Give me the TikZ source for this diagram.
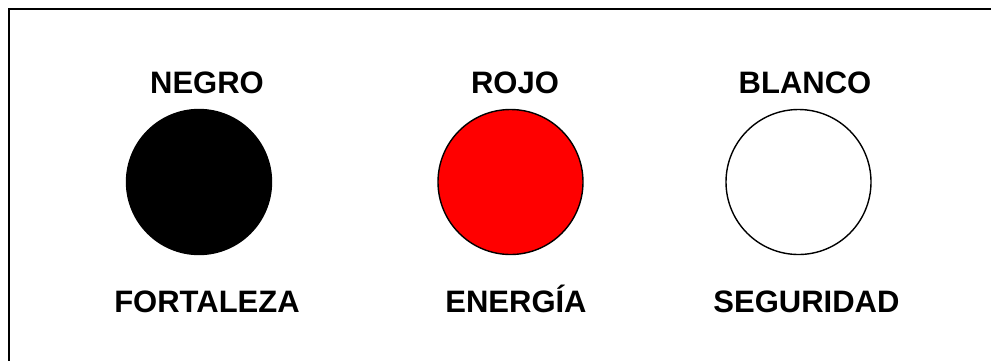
\documentclass[tikz,border=0pt]{standalone}
\usepackage{fontspec}
\setmainfont{Liberation Sans}
\begin{document}
\begin{tikzpicture}[x=1pt,y=-1pt,
  lbl/.style={font=\fontsize{31}{37}\selectfont\bfseries, anchor=base, inner sep=0pt},
  dot/.style={circle, draw=black, line width=1.4pt, minimum size=145pt, inner sep=0pt}]
\useasboundingbox (0,0) rectangle (991,360);
\draw[line width=2.2pt] (9,9) rectangle (1010,380);
\node[dot, fill=black] (negro) at (199,182) {};
\node[dot, fill=red] (rojo) at (510.5,182) {};
\node[dot, fill=white] (blanco) at (798.5,182) {};
\node[lbl] (tnegro) at (207,93) {NEGRO};
\node[lbl] (trojo) at (515,93) {ROJO};
\node[lbl] (tblanco) at (805,93) {BLANCO};
\node[lbl] (tfort) at (207,312) {FORTALEZA};
\node[lbl] (tener) at (516,312) {ENERGÍA};
\node[lbl] (tseg) at (806.5,312) {SEGURIDAD};
\end{tikzpicture}
\end{document}
